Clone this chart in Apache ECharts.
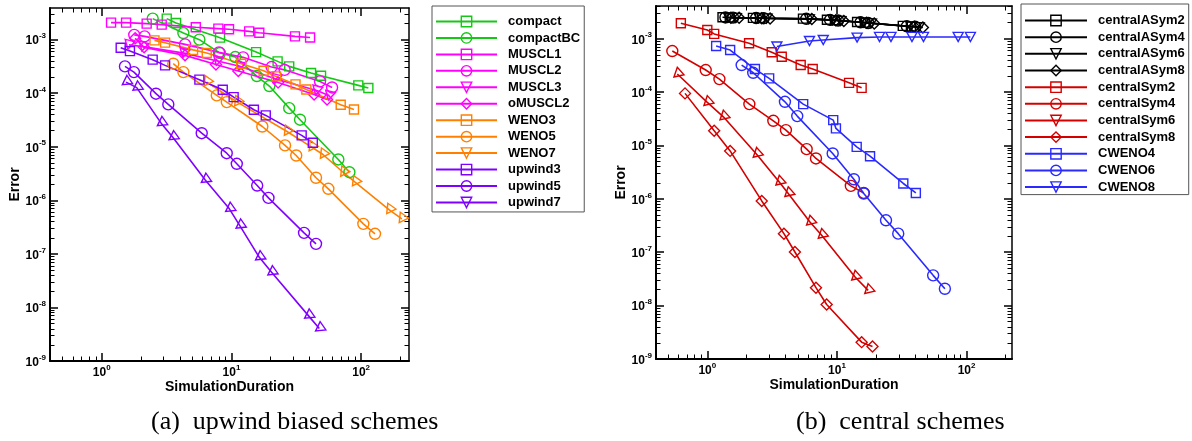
<!DOCTYPE html>
<html>
<head>
<meta charset="utf-8">
<script src="https://cdn.jsdelivr.net/npm/echarts@6/dist/echarts.min.js"></script>
<style>
  html, body { margin: 0; padding: 0; background: #fff; }
  #chart { width: 1192px; height: 441px; }
</style>
</head>
<body>
<div id="chart"></div>
<script>
// Major tick positions (labelled as powers of ten)
const durationTicks = [1, 10, 100];
const errorTicks = [1e-9, 1e-8, 1e-7, 1e-6, 1e-5, 1e-4, 1e-3];

// ---------- (a) upwind biased schemes: simulation duration vs. error ----------
const compact_t   = [3.17, 3.74, 8.17, 15.5, 22.7, 27.9, 41.1, 49.1, 95.1, 113.7];
const compact_e   = [2.47e-3, 2.04e-3, 1.09e-3, 5.86e-4, 3.93e-4, 3.17e-4, 2.38e-4, 2.12e-4, 1.40e-4, 1.25e-4];
const compactBC_t = [2.47, 4.26, 5.66, 8.17, 10.7, 15.7, 19.6, 27.9, 33.8, 66.7, 81.2];
const compactBC_e = [2.47e-3, 1.33e-3, 1.0e-3, 5.62e-4, 4.73e-4, 2.09e-4, 1.36e-4, 5.26e-5, 3.20e-5, 5.80e-6, 3.35e-6];
const muscl1_t    = [1.18, 1.54, 2.22, 2.90, 5.31, 7.93, 9.58, 13.7, 16.4, 30.9, 40.4];
const muscl1_e    = [2.08e-3, 2.08e-3, 1.99e-3, 1.91e-3, 1.70e-3, 1.61e-3, 1.56e-3, 1.43e-3, 1.35e-3, 1.15e-3, 1.10e-3];
const muscl2_t    = [1.78, 2.14, 4.39, 8.02, 12.3, 20.4, 25.7, 48.2, 59.7];
const muscl2_e    = [1.23e-3, 1.15e-3, 8.17e-4, 5.79e-4, 4.67e-4, 3.08e-4, 2.73e-4, 1.66e-4, 1.28e-4];
const muscl3_t    = [1.62, 2.08, 4.3, 7.8, 11.6, 22.0, 45.5, 57.0];
const muscl3_e    = [8.0e-4, 7.4e-4, 5.6e-4, 4.0e-4, 3.2e-4, 1.85e-4, 1.12e-4, 9.0e-5];
const omuscl2_t   = [1.81, 2.12, 4.39, 7.6, 11.3, 22.9, 43.4, 54.6];
const omuscl2_e   = [1.06e-3, 7.18e-4, 5.09e-4, 3.45e-4, 2.59e-4, 1.59e-4, 9.5e-5, 7.66e-5];
const weno3_t     = [2.55, 3.08, 5.06, 6.45, 11.9, 17.7, 22.1, 31.2, 37.8, 69.6, 88.1];
const weno3_e     = [9.70e-4, 8.79e-4, 6.45e-4, 5.62e-4, 3.56e-4, 2.63e-4, 2.06e-4, 1.46e-4, 1.17e-4, 6.1e-5, 4.98e-5];
const weno5_t     = [3.56, 4.26, 7.71, 9.21, 17.3, 25.9, 31.6, 44.9, 55.9, 104, 128];
const weno5_e     = [3.56e-4, 2.48e-4, 9.1e-5, 6.82e-5, 2.39e-5, 1.06e-5, 6.87e-6, 2.64e-6, 1.64e-6, 3.64e-7, 2.37e-7];
const weno7_t     = [6.45, 11.1, 26.8, 41.6, 50.8, 72.9, 89.8, 165, 206];
const weno7_e     = [1.61e-4, 6.82e-5, 1.93e-5, 9.84e-6, 7.18e-6, 3.31e-6, 2.18e-6, 6.64e-7, 4.51e-7];
const upwind3_t   = [1.40, 1.65, 2.47, 3.08, 5.66, 8.57, 10.4, 14.9, 18.4, 34.8, 42.4];
const upwind3_e   = [7.08e-4, 6.12e-4, 4.23e-4, 3.31e-4, 1.79e-4, 1.16e-4, 8.45e-5, 4.92e-5, 3.85e-5, 1.63e-5, 1.19e-5];
const upwind5_t   = [1.51, 1.77, 2.62, 3.26, 5.90, 9.20, 11.0, 15.8, 19.3, 36.3, 44.9];
const upwind5_e   = [3.17e-4, 2.48e-4, 9.8e-5, 6.18e-5, 1.79e-5, 7.59e-6, 4.81e-6, 1.89e-6, 1.11e-6, 2.47e-7, 1.54e-7];
const upwind7_t   = [1.54, 1.86, 2.87, 3.53, 6.26, 9.64, 11.6, 16.4, 20.4, 39.2, 47.6];
const upwind7_e   = [1.61e-4, 1.27e-4, 2.76e-5, 1.51e-5, 2.42e-6, 6.93e-7, 3.38e-7, 8.63e-8, 4.53e-8, 7.03e-9, 4.06e-9];

// ---------- (b) central schemes ----------
const cASym2_t = [1.31, 1.49, 2.25, 2.55, 5.47, 8.37, 9.64, 14.3, 16.4, 32.2, 37.2];
const cASym2_e = [2.52e-3, 2.50e-3, 2.46e-3, 2.44e-3, 2.38e-3, 2.27e-3, 2.22e-3, 2.06e-3, 2.00e-3, 1.74e-3, 1.70e-3];
const cASym4_t = [1.38, 1.58, 2.38, 2.72, 5.80, 8.85, 10.2, 15.2, 17.4, 34.6, 40.1];
const cASym4_e = [2.50e-3, 2.48e-3, 2.44e-3, 2.42e-3, 2.36e-3, 2.25e-3, 2.19e-3, 2.03e-3, 1.97e-3, 1.71e-3, 1.67e-3];
const cASym6_t = [1.45, 1.67, 2.50, 2.88, 6.10, 9.30, 10.7, 16.0, 18.4, 37.0, 43.0];
const cASym6_e = [2.49e-3, 2.47e-3, 2.43e-3, 2.40e-3, 2.34e-3, 2.23e-3, 2.17e-3, 2.01e-3, 1.95e-3, 1.69e-3, 1.65e-3];
const cASym8_t = [1.52, 1.76, 2.63, 3.05, 6.40, 9.80, 11.3, 16.9, 19.4, 39.5, 46.0];
const cASym8_e = [2.48e-3, 2.46e-3, 2.42e-3, 2.39e-3, 2.33e-3, 2.22e-3, 2.15e-3, 1.99e-3, 1.93e-3, 1.67e-3, 1.62e-3];
const cSym2_t  = [0.625, 1.0, 1.13, 2.10, 3.14, 3.75, 5.25, 6.50, 12.4, 15.5];
const cSym2_e  = [1.95e-3, 1.46e-3, 1.23e-3, 8.2e-4, 5.56e-4, 4.59e-4, 3.21e-4, 2.70e-4, 1.49e-4, 1.20e-4];
const cSym4_t  = [0.537, 0.972, 1.24, 2.11, 3.23, 4.04, 5.84, 6.89, 12.8, 16.1];
const cSym4_e  = [5.88e-4, 2.59e-4, 1.75e-4, 5.96e-5, 2.90e-5, 1.94e-5, 8.53e-6, 5.71e-6, 1.75e-6, 1.29e-6];
const cSym6_t  = [0.587, 1.0, 1.33, 2.40, 3.59, 4.21, 6.19, 7.62, 13.8, 17.4];
const cSym6_e  = [2.18e-4, 6.41e-5, 3.44e-5, 6.87e-6, 2.07e-6, 1.26e-6, 3.69e-7, 2.08e-7, 3.43e-8, 1.93e-8];
const cSym8_t  = [0.673, 1.13, 1.50, 2.63, 3.90, 4.74, 6.89, 8.33, 15.5, 18.8];
const cSym8_e  = [9.46e-5, 1.88e-5, 7.92e-6, 9.14e-7, 2.23e-7, 1.01e-7, 2.17e-8, 1.05e-8, 2.07e-9, 1.72e-9];
const cweno4_t = [1.17, 1.50, 2.33, 3.00, 5.49, 9.36, 9.82, 14.2, 18.0, 32.5, 40.6];
const cweno4_e = [7.3e-4, 6.14e-4, 2.70e-4, 1.81e-4, 5.96e-5, 2.99e-5, 2.09e-5, 9.42e-6, 6.30e-6, 1.94e-6, 1.29e-6];
const cweno6_t = [1.84, 2.26, 3.97, 4.94, 9.27, 13.5, 16.1, 23.9, 29.7, 55.2, 68.0];
const cweno6_e = [3.21e-4, 2.30e-4, 6.58e-5, 3.55e-5, 7.08e-6, 2.33e-6, 1.26e-6, 3.97e-7, 2.23e-7, 3.69e-8, 2.07e-8];
const cweno8_t = [3.44, 6.14, 7.84, 14.3, 21.3, 26.1, 37.9, 46.5, 86.1, 107];
const cweno8_e = [7.14e-4, 9.06e-4, 9.46e-4, 1.05e-3, 1.08e-3, 1.08e-3, 1.08e-3, 1.08e-3, 1.08e-3, 1.08e-3];

// ---------- styling ----------
const SANS = 'Liberation Sans, Arial, Helvetica, sans-serif';
const SERIF = 'Liberation Serif, Times New Roman, serif';
const GREEN = '#16c816', MAGENTA = '#ff00ff', ORANGE = '#ff8000', PURPLE = '#8000ff';
const BLACK = '#000000', RED = '#d40000', BLUE = '#2a2aff';

const SHAPES = {
  square:  { symbol: 'rect', size: 9 },
  circle:  { symbol: 'circle', size: 11 },
  tri:     { symbol: 'path://M0,0L10,0L5,8.66Z', size: [10, 9] },
  diamond: { symbol: 'diamond', size: 11 }
};

// one line-with-markers series on the given panel
function curve(name, t, e, color, shape, panel, rotate) {
  const s = SHAPES[shape];
  return {
    name: name,
    type: 'line',
    xAxisIndex: panel * 4,
    yAxisIndex: panel * 4,
    data: t.map((x, i) => [x, e[i]]),
    symbol: s.symbol,
    symbolSize: s.size,
    symbolRotate: rotate || 0,
    showAllSymbol: true,
    lineStyle: { color: color, width: 1.6 },
    itemStyle: { color: 'rgba(0,0,0,0)', borderColor: color, borderWidth: 1.4 },
    emphasis: { disabled: true },
    animation: false,
    z: 3
  };
}

const pow10Label = v => '{b|10}{s|' + Math.round(Math.log10(v)) + '}';
const labelRich = {
  b: { fontFamily: SANS, fontWeight: 'bold', fontSize: 12, color: '#000', lineHeight: 15, verticalAlign: 'bottom' },
  s: { fontFamily: SANS, fontWeight: 'bold', fontSize: 8, color: '#000', lineHeight: 9, verticalAlign: 'top' }
};
const nameStyle = { fontFamily: SANS, fontWeight: 'bold', fontSize: 14, color: '#000' };

function minorTicks(lo, hi) {
  const out = [];
  for (let k = -10; k <= 3; k++) {
    for (let m = 2; m <= 9; m++) {
      const v = m * Math.pow(10, k);
      if (v > lo && v < hi) out.push(v);
    }
  }
  return out;
}

// four horizontal axes per panel: bottom major, bottom minor, top major, top minor
function xAxesFor(gi, min, max) {
  const base = { type: 'log', logBase: 10, gridIndex: gi, min: min, max: max, splitLine: { show: false }, silent: true };
  const minor = minorTicks(min, max);
  return [
    Object.assign({}, base, {
      position: 'bottom',
      axisLine: { show: true, lineStyle: { color: '#000', width: 2 } },
      axisTick: { show: true, inside: true, length: 8, lineStyle: { color: '#000', width: 1.5 }, customValues: durationTicks },
      axisLabel: { show: true, customValues: durationTicks, formatter: pow10Label, rich: labelRich, margin: 3 },
      name: 'SimulationDuration', nameLocation: 'middle', nameGap: 19, nameMoveOverlap: false, nameTextStyle: nameStyle
    }),
    Object.assign({}, base, {
      position: 'bottom',
      axisLine: { show: false },
      axisTick: { show: true, inside: true, length: 4.5, lineStyle: { color: '#000', width: 1 }, customValues: minor },
      axisLabel: { show: false }
    }),
    Object.assign({}, base, {
      position: 'top',
      axisLine: { show: true, lineStyle: { color: '#000', width: 1.5 } },
      axisTick: { show: true, inside: true, length: 8, lineStyle: { color: '#000', width: 1.5 }, customValues: durationTicks },
      axisLabel: { show: false }
    }),
    Object.assign({}, base, {
      position: 'top',
      axisLine: { show: false },
      axisTick: { show: true, inside: true, length: 4.5, lineStyle: { color: '#000', width: 1 }, customValues: minor },
      axisLabel: { show: false }
    })
  ];
}

// four vertical axes per panel: left major, left minor, right major, right minor
function yAxesFor(gi, min, max) {
  const base = { type: 'log', logBase: 10, gridIndex: gi, min: min, max: max, splitLine: { show: false }, silent: true };
  const minor = minorTicks(min, max);
  return [
    Object.assign({}, base, {
      position: 'left',
      axisLine: { show: true, lineStyle: { color: '#000', width: 2 } },
      axisTick: { show: true, inside: true, length: 8, lineStyle: { color: '#000', width: 1.5 }, customValues: errorTicks },
      axisLabel: { show: true, customValues: errorTicks, formatter: pow10Label, rich: labelRich, margin: 4 },
      name: 'Error', nameLocation: 'middle', nameGap: 28, nameMoveOverlap: false, nameTextStyle: nameStyle
    }),
    Object.assign({}, base, {
      position: 'left',
      axisLine: { show: false },
      axisTick: { show: true, inside: true, length: 4.5, lineStyle: { color: '#000', width: 1 }, customValues: minor },
      axisLabel: { show: false }
    }),
    Object.assign({}, base, {
      position: 'right',
      axisLine: { show: true, lineStyle: { color: '#000', width: 1.5 } },
      axisTick: { show: true, inside: true, length: 8, lineStyle: { color: '#000', width: 1.5 }, customValues: errorTicks },
      axisLabel: { show: false }
    }),
    Object.assign({}, base, {
      position: 'right',
      axisLine: { show: false },
      axisTick: { show: true, inside: true, length: 4.5, lineStyle: { color: '#000', width: 1 }, customValues: minor },
      axisLabel: { show: false }
    })
  ];
}

const seriesA = [
  curve('compact',   compact_t,   compact_e,   GREEN,   'square',  0),
  curve('compactBC', compactBC_t, compactBC_e, GREEN,   'circle',  0),
  curve('MUSCL1',    muscl1_t,    muscl1_e,    MAGENTA, 'square',  0),
  curve('MUSCL2',    muscl2_t,    muscl2_e,    MAGENTA, 'circle',  0),
  curve('MUSCL3',    muscl3_t,    muscl3_e,    MAGENTA, 'tri',     0, -14),
  curve('oMUSCL2',   omuscl2_t,   omuscl2_e,   MAGENTA, 'diamond', 0),
  curve('WENO3',     weno3_t,     weno3_e,     ORANGE,  'square',  0),
  curve('WENO5',     weno5_t,     weno5_e,     ORANGE,  'circle',  0),
  curve('WENO7',     weno7_t,     weno7_e,     ORANGE,  'tri',     0, -35),
  curve('upwind3',   upwind3_t,   upwind3_e,   PURPLE,  'square',  0),
  curve('upwind5',   upwind5_t,   upwind5_e,   PURPLE,  'circle',  0),
  curve('upwind7',   upwind7_t,   upwind7_e,   PURPLE,  'tri',     0, -55)
];
const seriesB = [
  curve('centralASym2', cASym2_t, cASym2_e, BLACK, 'square',  1),
  curve('centralASym4', cASym4_t, cASym4_e, BLACK, 'circle',  1),
  curve('centralASym6', cASym6_t, cASym6_e, BLACK, 'tri',     1, -3),
  curve('centralASym8', cASym8_t, cASym8_e, BLACK, 'diamond', 1),
  curve('centralSym2',  cSym2_t,  cSym2_e,  RED,   'square',  1),
  curve('centralSym4',  cSym4_t,  cSym4_e,  RED,   'circle',  1),
  curve('centralSym6',  cSym6_t,  cSym6_e,  RED,   'tri',     1, -48),
  curve('centralSym8',  cSym8_t,  cSym8_e,  RED,   'diamond', 1),
  curve('CWENO4',       cweno4_t, cweno4_e, BLUE,  'square',  1),
  curve('CWENO6',       cweno6_t, cweno6_e, BLUE,  'circle',  1),
  curve('CWENO8',       cweno8_t, cweno8_e, BLUE,  'tri',     1)
];

function legendFor(series, left, top, itemWidth, gap, pad) {
  return {
    data: series.map(s => s.name),
    orient: 'vertical',
    left: left, top: top,
    itemWidth: itemWidth, itemHeight: 13, itemGap: gap,
    padding: pad,
    borderColor: '#555', borderWidth: 1, borderRadius: 0,
    backgroundColor: '#fff',
    selectedMode: false,
    symbolRotate: 0,
    lineStyle: { width: 2 },
    itemStyle: { borderWidth: 1.4 },
    textStyle: { fontFamily: SANS, fontWeight: 'bold', fontSize: 13, color: '#000', padding: [0, 0, 0, 6] }
  };
}

const chart = echarts.init(document.getElementById('chart'), null, { renderer: 'canvas' });
chart.setOption({
  animation: false,
  backgroundColor: '#fff',
  grid: [
    { left: 50, top: 8, width: 359, height: 353 },
    { left: 656, top: 6, width: 356, height: 353 }
  ],
  xAxis: xAxesFor(0, 0.399, 234).concat(xAxesFor(1, 0.402, 224)),
  yAxis: yAxesFor(0, 1e-9, 0.0039).concat(yAxesFor(1, 1e-9, 0.0041)),
  legend: [
    legendFor(seriesA, 432, 6, 61, 3.45, [9, 4, 3, 3]),
    legendFor(seriesB, 1021, 4, 62, 3.66, [10, 4, 1, 3])
  ],
  title: [
    { text: '(a)  upwind biased schemes', left: 151, top: 409, padding: 0,
      textStyle: { fontFamily: SERIF, fontWeight: 'normal', fontSize: 26, color: '#000' } },
    { text: '(b)  central schemes', left: 796, top: 409, padding: 0,
      textStyle: { fontFamily: SERIF, fontWeight: 'normal', fontSize: 26, color: '#000' } }
  ],
  series: seriesA.concat(seriesB)
});
</script>
</body>
</html>
